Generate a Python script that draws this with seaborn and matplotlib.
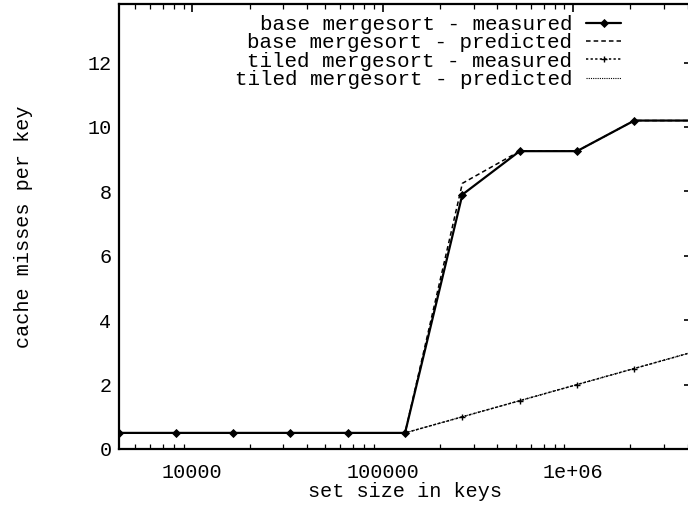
import matplotlib
matplotlib.use("Agg")
import matplotlib.pyplot as plt
import seaborn as sns
import numpy as np
import pandas as pd
from matplotlib.ticker import FixedLocator, FixedFormatter, LogLocator, NullFormatter

# ---- data ----
set_sizes = [4096, 8192, 16384, 32768, 65536, 131072, 262144, 524288, 1048576, 2097152, 4194304]
base_measured = [0.5, 0.5, 0.5, 0.5, 0.5, 0.5, 7.9, 9.25, 9.25, 10.2, 10.2]
base_predicted = [0.5, 0.5, 0.5, 0.5, 0.5, 0.5, 8.25, 9.25, 9.25, 10.2, 10.2]
tiled_measured = [0.5, 0.5, 0.5, 0.5, 0.5, 0.5, 1.0, 1.5, 2.0, 2.5, 3.0]
tiled_predicted = [0.5, 0.5, 0.5, 0.5, 0.5, 0.5, 1.0, 1.5, 2.0, 2.5, 3.0]
series_names = ["base mergesort - measured", "base mergesort - predicted",
                "tiled mergesort - measured", "tiled mergesort - predicted"]
y_ticks = [0, 2, 4, 6, 8, 10, 12]
x_ticks = [10000, 100000, 1000000]
x_tick_labels = ["10000", "100000", "1e+06"]

sns.set_theme(style="white")
plt.rcParams['font.family'] = ['Liberation Mono', 'DejaVu Sans Mono']
FS = 14.5
LFS = 15

W, H = 688, 507
fig = plt.figure(figsize=(W / 100, H / 100), dpi=100)
left_px, right_px, top_px, bottom_px = 118.5, 691.6, 4.5, 449.0
ax = fig.add_axes([left_px / W, 1 - bottom_px / H, (right_px - left_px) / W, (bottom_px - top_px) / H])

df = pd.DataFrame({"x": set_sizes, "bm": base_measured, "bp": base_predicted,
                   "tm": tiled_measured, "tp": tiled_predicted})

sns.lineplot(data=df, x="x", y="tp", ax=ax, color="black", lw=0.8,
             linestyle=(0, (1, 1)), label=series_names[3], zorder=2)
sns.lineplot(data=df, x="x", y="tm", ax=ax, color="black", lw=1.1,
             linestyle=(0, (1.5, 1.5)), marker="+", markersize=5, markeredgewidth=1.0,
             markeredgecolor="black", label=series_names[2], zorder=3)
sns.lineplot(data=df, x="x", y="bp", ax=ax, color="black", lw=1.1,
             linestyle=(0, (3, 2)), label=series_names[1], zorder=3)
sns.lineplot(data=df, x="x", y="bm", ax=ax, color="black", lw=1.6,
             marker="D", markersize=4.5, markeredgewidth=0.6, markeredgecolor="black",
             markerfacecolor="black", label=series_names[0], zorder=4)

ax.set_xscale("log")
ax.set_xlim(4096, 4194304)
ax.set_ylim(0, (bottom_px - top_px) / 32.2)

ax.xaxis.set_major_locator(FixedLocator(x_ticks))
ax.xaxis.set_major_formatter(FixedFormatter(x_tick_labels))
ax.xaxis.set_minor_locator(LogLocator(base=10, subs=np.arange(2, 10)))
ax.xaxis.set_minor_formatter(NullFormatter())
ax.set_yticks(y_ticks)
ax.set_yticklabels([str(v) for v in y_ticks])

ax.tick_params(axis="both", which="major", direction="in", length=6, width=1.2,
               top=True, right=True, labelsize=FS, color="black", labelcolor="black")
ax.tick_params(axis="x", which="minor", direction="in", length=3.5, width=0.9,
               top=True, bottom=True, color="black")
ax.tick_params(axis="y", which="major", pad=5)
ax.tick_params(axis="x", which="major", pad=10)

for s in ax.spines.values():
    s.set_color("black")
    s.set_linewidth(1.6)

ax.set_xlabel("set size in keys", fontsize=FS, color="black", labelpad=0)
ax.set_ylabel("cache misses per key", fontsize=FS, color="black")
ax.yaxis.set_label_coords((33 - left_px) / (right_px - left_px), 0.5)

handles, labels = ax.get_legend_handles_labels()
order = [labels.index(n) for n in series_names]
leg = ax.legend([handles[i] for i in order], [labels[i] for i in order],
                loc="upper right", bbox_to_anchor=(621 / W, 1 - 15 / H),
                bbox_transform=fig.transFigure, frameon=False, markerfirst=False,
                fontsize=LFS, handlelength=1.68, handletextpad=0.65, labelspacing=-0.03,
                borderpad=0, borderaxespad=0)
for t in leg.get_texts():
    t.set_color("black")

fig.savefig("out.png", dpi=100, facecolor="white")
